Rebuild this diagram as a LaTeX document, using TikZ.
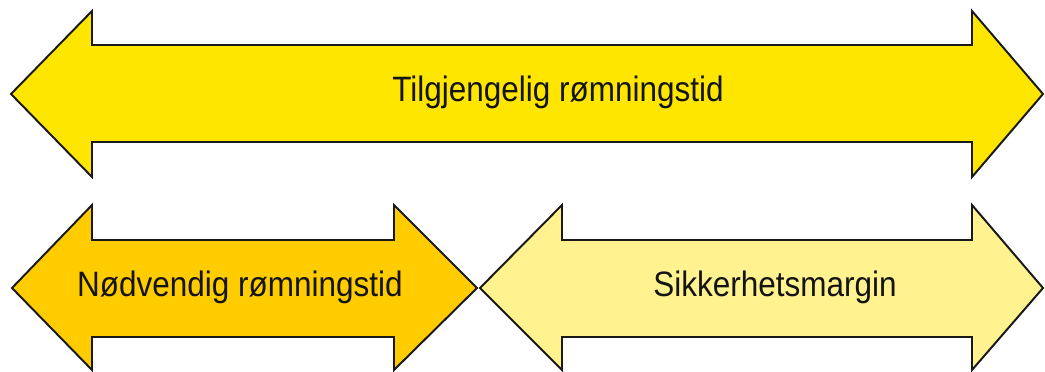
\documentclass[tikz,border=0pt]{standalone}
\usepackage{fontspec}
\setmainfont{Liberation Sans}
\usetikzlibrary{positioning}
\definecolor{tilgjyellow}{HTML}{FFE600}
\definecolor{noedgold}{HTML}{FFCC00}
\definecolor{sikkpale}{HTML}{FFF28F}
\tikzset{%
  darrow/.style = {
    fill = #1,
    draw = black!90,
    line width = 1.4pt,
    line join = miter,
  },
  darrow/.default = {tilgjyellow},
  arrowtext/.style = {
    font = \fontsize{22.4}{26}\selectfont,
    text = black!92,
    inner sep = 0pt,
    anchor = base,
  },
}

\begin{document}
\begin{tikzpicture}[x=0.025cm, y=-0.025cm]
\useasboundingbox (0,0) rectangle (1045,372);

% tilgjengelig
\draw[darrow=tilgjyellow] (11,94) -- (92,11) -- (92,45) -- (972,45) -- (972,11)
  -- (1043,94) -- (972,177) -- (972,142) -- (92,142) -- (92,177) -- cycle;
% noedvendig
\draw[darrow=noedgold] (12,288) -- (92,205) -- (92,240) -- (394,240) -- (394,205)
  -- (477,288) -- (394,370) -- (394,337) -- (92,337) -- (92,370) -- cycle;
% sikkerhet
\draw[darrow=sikkpale] (480,288) -- (562,205) -- (562,240) -- (972,240) -- (972,205)
  -- (1043,288) -- (972,370) -- (972,337) -- (562,337) -- (562,370) -- cycle;

\node(tilgj) [arrowtext] at (558,102) {\scalebox{1}[1.12]{Tilgjengelig rømningstid}};
\node(noedv) [arrowtext] at (240,297) {\scalebox{1}[1.12]{Nødvendig rømningstid}};
\node(sikk)  [arrowtext] at (775,297) {\scalebox{1}[1.12]{Sikkerhetsmargin}};
\end{tikzpicture}
\end{document}
